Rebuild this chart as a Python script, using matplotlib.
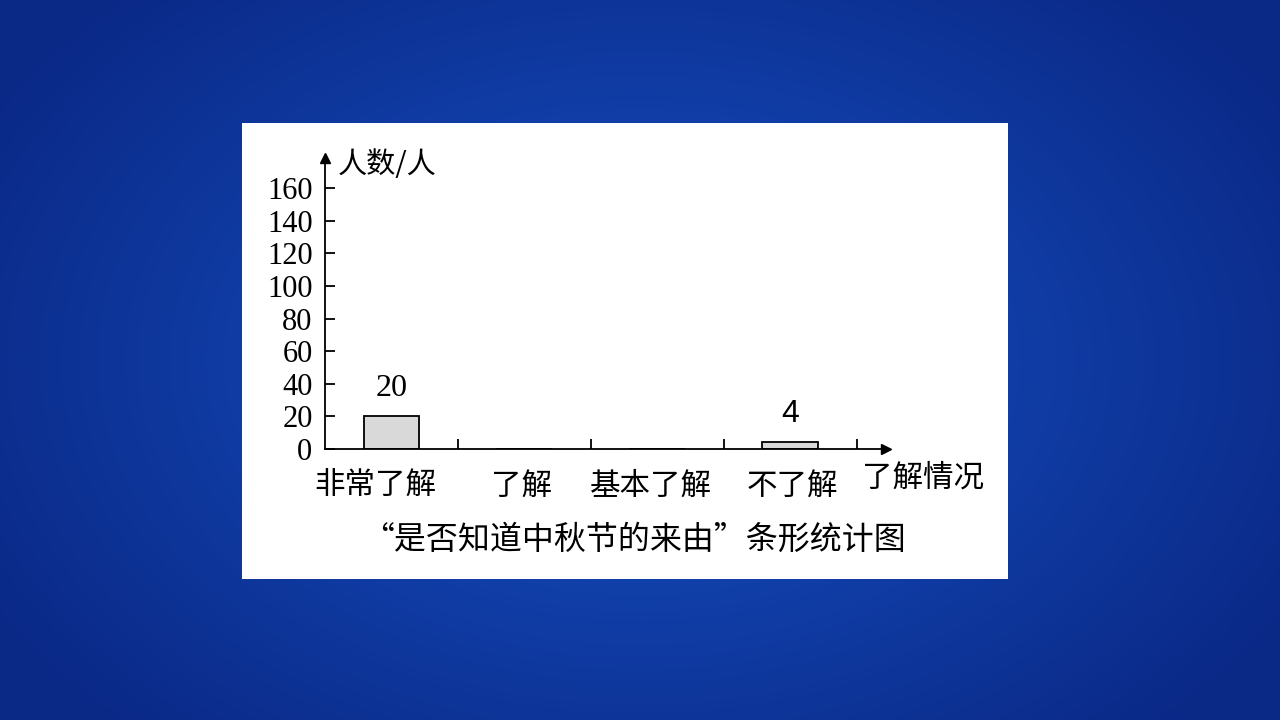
import numpy as np
import matplotlib
matplotlib.use("Agg")
import matplotlib.pyplot as plt
from matplotlib.patches import Rectangle

categories = ["非常了解", "了解", "基本了解", "不了解"]
counts = [20, 0, 0, 4]
shown = [True, False, False, True]
yticks = [0, 20, 40, 60, 80, 100, 120, 140, 160]
title = "“是否知道中秋节的来由”条形统计图"

serif = ["Liberation Serif", "DejaVu Serif"]
cjk = ["Noto Sans CJK SC", "DejaVu Sans"]

fig = plt.figure(figsize=(12.8, 7.2), dpi=100)

# blue radial background
bg = fig.add_axes([0, 0, 1, 1])
yy, xx = np.mgrid[0:720, 0:1280]
r = np.sqrt(((xx - 640) / 760.0) ** 2 + ((yy - 360) / 520.0) ** 2)
r = np.clip(r, 0, 1)
c0 = np.array([0x16, 0x52, 0xc4]) / 255.0
c1 = np.array([0x0a, 0x28, 0x86]) / 255.0
img = c0[None, None, :] * (1 - r[..., None]) + c1[None, None, :] * r[..., None]
bg.imshow(img, extent=[0, 1, 0, 1], aspect="auto")
bg.axis("off")

# white panel
fig.patches.append(Rectangle((242 / 1280, (720 - 579) / 720), 766 / 1280, 456 / 720,
                             transform=fig.transFigure, facecolor="white",
                             edgecolor="none", zorder=1))

ax = fig.add_axes([325 / 1280, (720 - 449) / 720, 561 / 1280, 291 / 720])
ax.set_zorder(2)
ax.patch.set_alpha(0)
x = np.arange(len(categories))
ax.bar(x, counts, width=0.42, color="#d9d9d9", edgecolor="black", linewidth=1.3)
ax.set_xlim(-0.5, 3.72)
ax.set_ylim(0, 178.4)

for s in ["top", "right"]:
    ax.spines[s].set_visible(False)
ax.spines["left"].set_linewidth(1.3)
ax.spines["bottom"].set_linewidth(1.3)

ax.set_yticks(yticks)
ax.set_yticklabels([str(v) for v in yticks], fontfamily=serif, fontsize=22)
ax.tick_params(axis="y", direction="in", length=7, width=1.3, pad=9)
ax.set_xticks(np.arange(0.5, 4, 1.0))
ax.set_xticklabels([])
ax.tick_params(axis="x", direction="in", length=7, width=1.3)

# arrows
ax.plot(1, 0, ">k", markersize=7, transform=ax.transAxes, clip_on=False)
ax.plot(0, 1, "^k", markersize=7, transform=ax.transAxes, clip_on=False)

# value labels
for xi, v, s in zip(x, counts, shown):
    if s:
        fam = serif if v >= 10 else ["Liberation Sans", "DejaVu Sans"]
        ax.text(xi, v + 8, str(v), ha="center", va="bottom", fontsize=23, fontfamily=fam)

# category labels
label_px = [375, 522, 651, 792]
for lx, name in zip(label_px, categories):
    fig.text(lx / 1280, (720 - 486) / 720, name, ha="center", va="center",
             fontsize=22, fontfamily=cjk)

fig.text(338 / 1280, (720 - 165) / 720, "人数/人", ha="left", va="center",
         fontsize=21, fontfamily=cjk)
fig.text(862 / 1280, (720 - 478) / 720, "了解情况", ha="left", va="center",
         fontsize=22, fontfamily=cjk)
fig.text(634 / 1280, (720 - 540) / 720, title, ha="center", va="center",
         fontsize=23, fontfamily=cjk)

fig.savefig("out.png", dpi=100)
